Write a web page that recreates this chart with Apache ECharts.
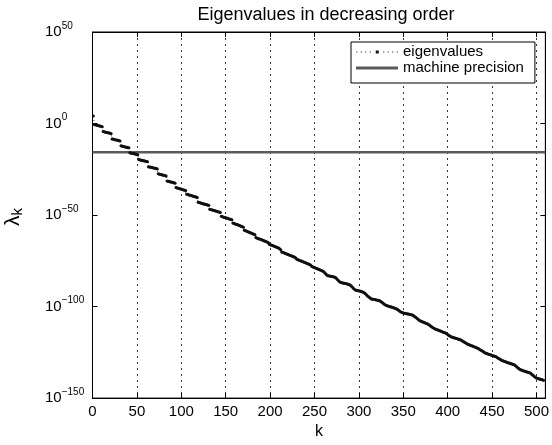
<!DOCTYPE html>
<html>
<head>
<meta charset="utf-8">
<script src="https://cdn.jsdelivr.net/npm/echarts@6/dist/echarts.min.js"></script>
<style>html,body{margin:0;padding:0;background:#fff;}#chart{width:552px;height:445px;}</style>
</head>
<body>
<div id="chart"></div>
<script>
// log10 of eigenvalue lambda_k, k = 1 .. 508
const eigenExponents = [
  4.1,
  -0.6,-0.7,-0.8,-1.0,-1.1,-1.2,-1.3,-1.4,-1.6,-1.7,
  -4.4,-4.5,-4.6,-4.8,-4.9,-5.0,-5.1,-5.2,-5.4,-5.5,
  -8.4,-8.5,-8.6,-8.8,-8.9,-9.0,-9.1,-9.2,-9.4,-9.5,
  -12.2,-12.3,-12.4,-12.6,-12.7,-12.8,-12.9,-13.0,-13.2,-13.3,
  -16.0,-16.1,-16.2,-16.3,-16.4,-16.5,-16.6,-16.7,-16.9,-17.0,
  -19.7,-19.8,-19.9,-20.0,-20.1,-20.3,-20.4,-20.5,-20.6,-20.7,-20.9,
  -23.6,-23.7,-23.8,-23.9,-24.0,-24.2,-24.3,-24.4,-24.5,-24.6,-24.8,
  -27.5,-27.6,-27.7,-27.9,-28.0,-28.1,-28.2,-28.3,-28.5,-28.6,
  -31.4,-31.5,-31.6,-31.8,-31.9,-32.0,-32.1,-32.3,-32.4,-32.6,
  -35.0,-35.1,-35.3,-35.4,-35.6,-35.7,-35.9,-36.0,-36.2,-36.3,-36.5,-36.6,
  -38.6,-38.7,-38.9,-39.0,-39.2,-39.3,-39.5,-39.6,-39.8,-39.9,-40.1,-40.2,-40.4,
  -43.0,-43.1,-43.3,-43.4,-43.6,-43.7,-43.9,-44.0,-44.1,-44.3,-44.4,-44.6,-44.7,
  -46.8,-46.9,-47.1,-47.2,-47.4,-47.5,-47.7,-47.8,-48.0,-48.1,-48.3,-48.4,-48.6,
  -50.7,-50.8,-51.0,-51.2,-51.3,-51.5,-51.6,-51.8,-51.9,-52.1,-52.3,-52.4,-52.6,
  -54.3,-54.5,-54.7,-54.9,-55.1,-55.2,-55.4,-55.6,-55.8,-56.0,-56.2,-56.4,-56.6,
  -58.3,-58.5,-58.7,-58.9,-59.1,-59.3,-59.5,-59.7,-59.9,-60.1,-60.3,-60.5,-60.7,
  -62.3,-62.5,-62.7,-62.9,-63.1,-63.2,-63.4,-63.6,-63.8,-64.0,-64.2,-64.4,-64.6,-64.8,-65.0,
  -66.0,-66.1,-66.3,-66.5,-66.7,-66.9,-67.1,-67.3,-67.5,-67.7,-67.9,-68.2,-68.5,-68.9,
  -70.2,-70.3,-70.5,-70.7,-70.9,-71.1,-71.3,-71.5,-71.7,-71.9,-72.1,-72.3,-72.5,-72.7,-72.9,-73.1,-73.4,
  -74.2,-74.3,-74.5,-74.7,-74.9,-75.1,-75.3,-75.5,-75.7,-75.9,-76.1,-76.3,-76.5,-76.7,-76.9,-77.1,-77.4,
  -78.1,-78.3,-78.5,-78.7,-78.9,-79.1,-79.3,-79.5,-79.7,-79.9,-80.1,-80.3,-80.6,-80.9,-81.2,-81.6,
  -82.3,-82.8,-83.1,-83.2,-83.3,-83.4,-83.5,-83.6,-83.7,-83.8,-84.0,
  -84.3,-84.8,-85.3,-85.8,-86.3,-86.7,
  -86.9,-87.0,-87.1,-87.2,-87.3,-87.4,-87.5,-87.6,-87.8,-88.0,-88.2,
  -88.6,-89.1,-89.6,-90.1,-90.5,-90.9,
  -91.1,-91.2,-91.3,-91.4,-91.5,-91.6,-91.8,-92.0,-92.2,
  -92.5,-92.9,-93.3,-93.8,-94.3,-94.7,-95.1,-95.5,-95.8,
  -95.9,-96.0,-96.1,-96.2,-96.3,-96.4,-96.5,-96.6,-96.8,-97.0,
  -97.3,-97.7,-98.1,-98.5,-98.8,-99.1,-99.4,
  -99.6,-99.7,-99.9,-100.0,-100.2,-100.3,-100.5,-100.6,-100.8,-101.0,-101.2,
  -101.5,-101.8,-102.1,-102.5,-102.8,-103.1,-103.3,-103.5,
  -103.6,-103.7,-103.8,-103.9,-104.0,-104.1,-104.2,-104.3,-104.5,-104.6,-104.8,
  -105.1,-105.5,-105.9,-106.3,-106.7,-107.1,-107.5,-107.8,
  -108.0,-108.2,-108.4,-108.6,-108.8,-109.0,-109.2,-109.4,-109.6,
  -109.9,-110.3,-110.7,-111.0,-111.4,-111.7,-112.0,
  -112.2,-112.4,-112.6,-112.8,-113.0,-113.2,-113.4,-113.6,-113.8,-114.0,-114.1,-114.3,
  -114.6,-114.9,-115.3,-115.6,-115.9,-116.2,-116.5,
  -116.7,-116.8,-117.0,-117.1,-117.3,-117.4,-117.6,-117.8,-117.9,-118.1,-118.3,
  -118.6,-118.9,-119.2,-119.5,-119.8,-120.1,-120.4,-120.6,-120.8,-121.0,
  -121.2,-121.4,-121.6,-121.8,-122.0,-122.2,-122.4,-122.6,-122.8,
  -123.1,-123.4,-123.7,-124.0,-124.3,-124.6,-124.9,-125.2,-125.5,
  -125.7,-125.8,-126.0,-126.2,-126.3,-126.5,-126.7,-126.8,-127.0,-127.1,-127.3,
  -127.6,-127.9,-128.2,-128.5,-128.8,-129.1,-129.4,-129.6,-129.8,-130.0,
  -130.2,-130.3,-130.5,-130.7,-130.8,-131.0,-131.2,-131.3,-131.5,-131.6,-131.8,
  -132.2,-132.6,-133.0,-133.4,-133.8,-134.2,-134.5,
  -134.7,-134.8,-135.0,-135.2,-135.3,-135.5,-135.7,-135.8,-136.0,-136.1,-136.3,
  -136.7,-137.1,-137.5,-137.9,-138.3,-138.7,-139.0,
  -139.2,-139.3,-139.5,-139.6,-139.8,-139.9,-140.1,-140.3
];
const firstK = 1;
const machinePrecision = 2.220446049250313e-16;
const kRange = [0, 510];
const kTickStep = 50;
const yExponentRange = [-150, 50];
const yExponentStep = 50;
const seriesNames = ['eigenvalues', 'machine precision'];
const titleText = 'Eigenvalues in decreasing order';
const xLabelText = 'k';

const FONT = '"Liberation Sans", Arial, Helvetica, sans-serif';
const eigenData = eigenExponents.map((e, i) => [firstK + i, e]);
const epsExp = Math.log10(machinePrecision);
const epsData = [[kRange[0], epsExp], [kRange[1], epsExp]];

// legend icon: dotted line with a dot marker in the middle
const dottedIcon = 'path://M0,1h1v1h-1z M4.5,1h1v1h-1z M9,1h1v1h-1z M13.5,1h1v1h-1z M19.5,0h3v3h-3z M27,1h1v1h-1z M31.5,1h1v1h-1z M36,1h1v1h-1z M40.5,1h1v1h-1z';

const chart = echarts.init(document.getElementById('chart'), null, {renderer: 'canvas'});
const axisCommon = {
  axisLine: {show: true, onZero: false, lineStyle: {color: '#000', width: 1}},
  axisTick: {show: true, inside: true, length: 5, lineStyle: {color: '#000', width: 1}}
};
chart.setOption({
  animation: false,
  backgroundColor: '#fff',
  title: {
    text: titleText, left: 321, top: 1, textAlign: 'center',
    textStyle: {fontFamily: FONT, fontSize: 18, fontWeight: 'normal', color: '#000'}
  },
  grid: {left: 92.5, right: 4, top: 32, bottom: 43, show: true, borderColor: '#000', borderWidth: 1, backgroundColor: '#fff'},
  legend: {
    data: [
      {name: seriesNames[0], icon: dottedIcon},
      {name: seriesNames[1], icon: 'rect'}
    ],
    orient: 'vertical', left: 351, top: 42,
    itemWidth: 42, itemHeight: 3, itemGap: 0, padding: [2, 11, 7, 5],
    borderColor: '#000', borderWidth: 1, backgroundColor: '#fff',
    textStyle: {fontFamily: FONT, fontSize: 15, color: '#000', lineHeight: 16}
  },
  xAxis: [
    Object.assign({
      type: 'value', min: kRange[0], max: kRange[1], interval: kTickStep, position: 'bottom',
      name: xLabelText, nameLocation: 'middle', nameGap: 24,
      nameTextStyle: {fontFamily: FONT, fontSize: 16, color: '#000'},
      axisLabel: {fontFamily: FONT, fontSize: 15, color: '#000', margin: 6, showMaxLabel: false,
        formatter: v => (v % kTickStep === 0 ? String(v) : '')},
      splitLine: {show: true, lineStyle: {color: '#333', width: 1, type: [2, 4]}}
    }, axisCommon),
    Object.assign({
      type: 'value', min: kRange[0], max: kRange[1], interval: kTickStep, position: 'top',
      axisLabel: {show: false}, splitLine: {show: false}
    }, axisCommon)
  ],
  yAxis: [
    Object.assign({
      type: 'value', min: yExponentRange[0], max: yExponentRange[1], interval: yExponentStep, position: 'left',
      axisLabel: {
        align: 'left', margin: 47.5,
        formatter: v => '{b|10}{s|' + (v < 0 ? '\u2212' + (-v) : v) + '}',
        rich: {
          b: {fontFamily: FONT, fontSize: 15, color: '#000', lineHeight: 22},
          s: {fontFamily: FONT, fontSize: 10, color: '#000', verticalAlign: 'top', lineHeight: 12}
        }
      },
      splitLine: {show: false}
    }, axisCommon),
    Object.assign({
      type: 'value', min: yExponentRange[0], max: yExponentRange[1], interval: yExponentStep, position: 'right',
      axisLabel: {show: false}, splitLine: {show: false}
    }, axisCommon)
  ],
  graphic: [{
    type: 'text', x: 13.5, y: 217, rotation: Math.PI / 2,
    style: {
      text: '{l|\u03bb}{s|k}', align: 'center', verticalAlign: 'middle',
      rich: {
        l: {fontFamily: FONT, fontSize: 21, fill: '#000', lineHeight: 24},
        s: {fontFamily: FONT, fontSize: 15, fill: '#000', verticalAlign: 'bottom', lineHeight: 16}
      }
    }
  }],
  series: [
    {
      name: seriesNames[0], type: 'line', xAxisIndex: 0, yAxisIndex: 0, data: eigenData,
      symbol: 'circle', symbolSize: 3, showSymbol: true, showAllSymbol: true,
      itemStyle: {color: '#111'},
      lineStyle: {color: '#000', width: 0.8, type: [1, 3]},
      emphasis: {disabled: true}
    },
    {
      name: seriesNames[1], type: 'line', xAxisIndex: 0, yAxisIndex: 0, data: epsData,
      symbol: 'none', itemStyle: {color: '#5a5a5a'},
      lineStyle: {color: '#5a5a5a', width: 2.6},
      emphasis: {disabled: true}
    }
  ]
});
</script>
</body>
</html>
